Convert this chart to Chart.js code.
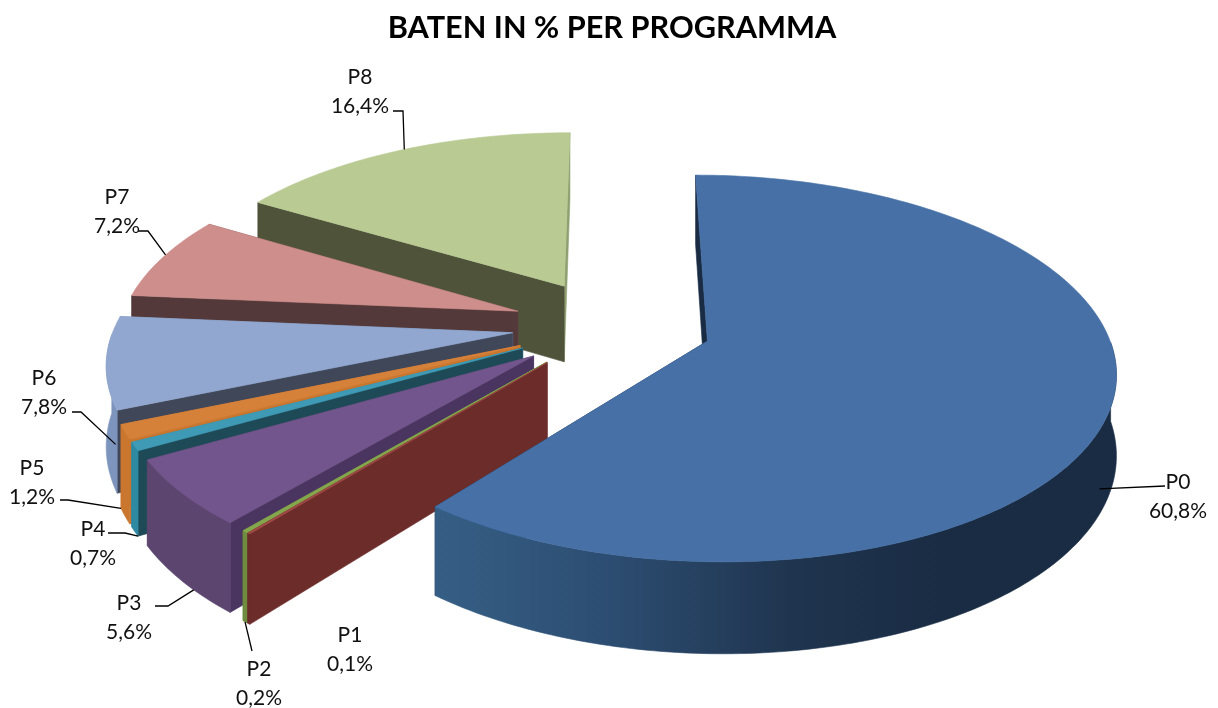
<!DOCTYPE html>
<html>
<head>
<meta charset="utf-8">
<title>Baten in % per programma</title>
<script src="https://cdn.jsdelivr.net/npm/chart.js@4"></script>
<style>
  html, body { margin: 0; padding: 0; background: #fff; }
  canvas { display: block; }
</style>
</head>
<body>
<canvas id="pieChart" width="1218" height="708"></canvas>
<script>
var programmes = ['P0', 'P1', 'P2', 'P3', 'P4', 'P5', 'P6', 'P7', 'P8'];
var shares = [60.8, 0.1, 0.2, 5.6, 0.7, 1.2, 7.8, 7.2, 16.4];

var topColors = ['#4670a6', '#a04a46', '#84a64c', '#72558c', '#3f9ab5', '#d6813a', '#92a7cf', '#ce8e8c', '#b9ca92'];
var faceColors = ['#1a2c44', '#6b2c2a', '#6f8c40', '#4a3560', '#1e4a58', '#c9762f', '#3f4759', '#533939', '#4e533a'];
var rimColors = ['#1a2c44', '#6b2c2a', '#6f8c40', '#5c4670', '#2e8aa3', '#c9762f', '#7d95bd', '#7a5252', '#8fa070'];

// label text position, then the elbow of its leader line (pixels on the page)
var labelX = [1178, 350, 259, 129, 93, 32, 44, 117, 360];
var labelY = [482, 635, 669, 603, 529, 468, 378, 197, 77];
var elbows = [
  [[1165, 486]], null, [[252, 651]], [[155, 606], [168, 606]], [[108, 533], [125, 533]],
  [[60, 500], [68, 500]], [[72, 412], [81, 412]], [[138, 231], [148, 231]], [[393, 111], [403, 111]]
];
// where on the slice the leader lands: along the arc (0-1), and how far down the wall (0-1)
var leaderAlong = [0.53, 0.5, 0.5, 0.35, 0.1, 0.9, 0.02, 0.55, 0.52];
var leaderDrop = [0.7, 0, 1, 1, 1, 1, 0.45, 0, 0];

// perspective of the pie
var squash = 0.465;
var perspective = 0.14;
var wallHeight = 78;

function project(arc, wx, wy, z) {
  var s = 1 / (1 - perspective * wy / arc.outerRadius);
  return [arc.x + wx * s, arc.y + squash * wy * s + z * s];
}

function fillPath(ctx, pts, color) {
  ctx.beginPath();
  pts.forEach(function (p, i) {
    if (i == 0) ctx.moveTo(p[0], p[1]);
    else ctx.lineTo(p[0], p[1]);
  });
  ctx.closePath();
  ctx.fillStyle = color;
  ctx.strokeStyle = color;
  ctx.lineWidth = 0.6;
  ctx.fill();
  ctx.stroke();
}

// apex and rim points of a slice, moved out along its bisector by the arc offset
function sliceOutline(arc) {
  var mid = (arc.startAngle + arc.endAngle) / 2;
  var ox = Math.cos(mid) * arc.options.offset;
  var oy = Math.sin(mid) * arc.options.offset;
  var steps = Math.max(2, Math.ceil((arc.endAngle - arc.startAngle) * 60));
  var rim = [];
  var front = [];
  for (var i = 0; i <= steps; i++) {
    var a = arc.startAngle + (arc.endAngle - arc.startAngle) * i / steps;
    var p = [ox + arc.outerRadius * Math.cos(a), oy + arc.outerRadius * Math.sin(a)];
    rim.push(p);
    // only the part of the rim that faces the viewer gets a wall
    if (Math.sin(a) > 0) front.push(p);
  }
  return { apex: [ox, oy], rim: rim, front: front };
}

function drawFace(ctx, arc, apex, edge, color) {
  fillPath(ctx, [
    project(arc, apex[0], apex[1], 0),
    project(arc, edge[0], edge[1], 0),
    project(arc, edge[0], edge[1], wallHeight),
    project(arc, apex[0], apex[1], wallHeight)
  ], color);
}

function drawSlice(ctx, arc, i) {
  var o = sliceOutline(arc);

  // the end face is nearly always hidden, the start face is the dark one you see
  drawFace(ctx, arc, o.apex, o.rim[o.rim.length - 1], rimColors[i]);
  drawFace(ctx, arc, o.apex, o.rim[0], faceColors[i]);

  if (o.front.length > 1) {
    var wall = o.front.map(function (p) { return project(arc, p[0], p[1], 0); });
    o.front.slice().reverse().forEach(function (p) { wall.push(project(arc, p[0], p[1], wallHeight)); });
    var wallColor = rimColors[i];
    if (i == 0) {
      wallColor = ctx.createLinearGradient(430, 0, 1110, 0);
      wallColor.addColorStop(0, '#365f85');
      wallColor.addColorStop(0.25, '#2d4e73');
      wallColor.addColorStop(0.54, '#1f344e');
      wallColor.addColorStop(0.75, '#1a2c44');
      wallColor.addColorStop(1, '#1a2c44');
    }
    fillPath(ctx, wall, wallColor);
  }

  var top = [project(arc, o.apex[0], o.apex[1], 0)];
  o.rim.forEach(function (p) { top.push(project(arc, p[0], p[1], 0)); });
  fillPath(ctx, top, topColors[i]);
}

function drawLabels(ctx, arcs) {
  ctx.font = '21px Lato';
  ctx.textAlign = 'center';
  ctx.textBaseline = 'middle';
  arcs.forEach(function (arc, i) {
    if (elbows[i]) {
      var o = sliceOutline(arc);
      var p = o.rim[Math.round((o.rim.length - 1) * leaderAlong[i])];
      var end = project(arc, p[0], p[1], wallHeight * leaderDrop[i]);
      ctx.beginPath();
      elbows[i].forEach(function (e, n) {
        if (n == 0) ctx.moveTo(e[0], e[1]);
        else ctx.lineTo(e[0], e[1]);
      });
      ctx.lineTo(end[0], end[1]);
      ctx.strokeStyle = '#000';
      ctx.lineWidth = 1.3;
      ctx.stroke();
    }
    ctx.fillStyle = '#111';
    ctx.fillText(programmes[i], labelX[i], labelY[i]);
    ctx.fillText(shares[i].toFixed(1).replace('.', ',') + '%', labelX[i], labelY[i] + 29);
  });
}

var pie3d = {
  id: 'pie3d',
  beforeDatasetsDraw: function (chart) {
    var arcs = chart.getDatasetMeta(0).data;
    // back to front, the big slice last
    for (var i = arcs.length - 1; i >= 0; i--) {
      drawSlice(chart.ctx, arcs[i], i);
    }
    return false;
  },
  afterDraw: function (chart) {
    drawLabels(chart.ctx, chart.getDatasetMeta(0).data);
  }
};

new Chart(document.getElementById('pieChart'), {
  type: 'pie',
  plugins: [pie3d],
  data: {
    labels: programmes,
    datasets: [{
      data: shares,
      backgroundColor: topColors,
      borderWidth: 0,
      offset: 100
    }]
  },
  options: {
    responsive: false,
    animation: false,
    radius: 398,
    layout: { padding: { left: 6, bottom: 110 } },
    plugins: {
      legend: { display: false },
      tooltip: { enabled: false },
      title: {
        display: true,
        text: 'BATEN IN % PER PROGRAMMA',
        color: '#000',
        font: { family: 'Lato', size: 30.7, weight: 'bold' },
        padding: { top: 10, bottom: 6 }
      }
    }
  }
});
</script>
</body>
</html>
